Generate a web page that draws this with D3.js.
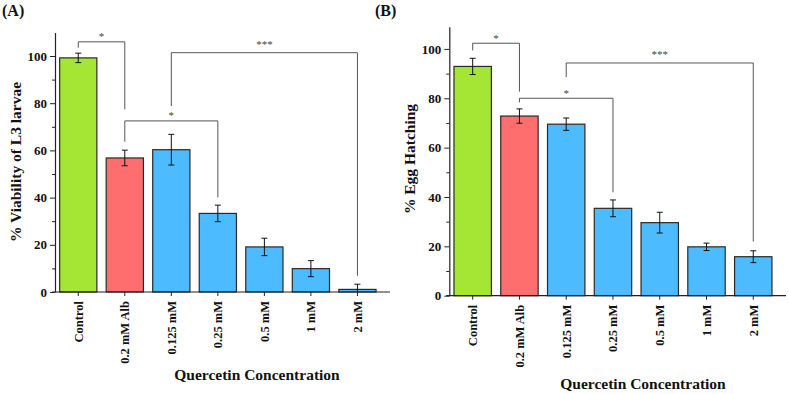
<!DOCTYPE html>
<html>
<head>
<meta charset="utf-8">
<script src="https://cdn.jsdelivr.net/npm/d3@7"></script>
<style>
	body { margin: 0; background: #fff; }
	text { font-family: 'Liberation Serif', 'Times New Roman', serif; font-weight: bold; fill: #111; }
</style>
</head>
<body>
<div id="chart"></div>
<script>
// categories shared by both panels
const categories = ['Control', '0.2 mM Alb', '0.125 mM', '0.25 mM', '0.5 mM', '1 mM', '2 mM']

// panel A: % viability of L3 larvae
const viability = [99.2, 56.8, 60.3, 33.3, 19.1, 9.9, 1.1]
const viabilityErr = [2.0, 3.3, 6.5, 3.5, 3.7, 3.4, 2.2]

// panel B: % egg hatching
const hatching = [92.9, 72.8, 69.5, 35.4, 29.6, 19.8, 15.8]
const hatchingErr = [3.3, 2.9, 2.5, 3.4, 4.2, 1.5, 2.4]

// significance brackets: from bar a to bar b, top value, end values, label
const viabilityBrackets = [
	{ a: 0, b: 1, top: 106, endA: 103.5, endB: 77.4, label: '*' },
	{ a: 1, b: 3, top: 72.5, endA: 63.7, endB: 40.1, label: '*' },
	{ a: 2, b: 6, top: 101.4, endA: 78.8, endB: 6.9, label: '***' }
]
const hatchingBrackets = [
	{ a: 0, b: 1, top: 102.3, endA: 99.4, endB: 82.7, label: '*' },
	{ a: 1, b: 3, top: 80, endA: 78.3, endB: 41.9, label: '*' },
	{ a: 2, b: 6, top: 94.3, endA: 88.6, endB: 21.9, label: '***' }
]

const yTicks = [0, 20, 40, 60, 80, 100]
const yMinorTicks = [10, 30, 50, 70, 90]

// bar colours by category (green control, red albendazole, blue quercetin)
const barColors = ['#a5e534', '#ff6e6e', '#4dbbff', '#4dbbff', '#4dbbff', '#4dbbff', '#4dbbff']

const width = 789
const height = 394

const svg = d3.select('#chart')
	.append('svg')
	.attr('width', width)
	.attr('height', height)

function drawPanel(opts) {
	const g = svg.append('g')

	const x = d3.scaleLinear()
		.domain([-0.5, 6.7])
		.range([opts.left, opts.right])

	const y = d3.scaleLinear()
		.domain([0, opts.yMax])
		.range([opts.bottom, opts.top])

	const barHalf = 0.4
	const rows = categories.map((c, i) => ({ name: c, i: i, v: opts.values[i], e: opts.errors[i] }))

	// bars
	g.selectAll('.bar')
		.data(rows)
		.join('rect')
		.attr('class', 'bar')
		.attr('x', d => x(d.i - barHalf))
		.attr('width', d => x(d.i + barHalf) - x(d.i - barHalf))
		.attr('y', d => y(d.v))
		.attr('height', d => y(0) - y(d.v))
		.attr('fill', d => barColors[d.i])
		.attr('stroke', '#2a2a2a')
		.attr('stroke-width', 1.2)

	// error bars
	const err = g.selectAll('.err')
		.data(rows)
		.join('g')
		.attr('class', 'err')
		.attr('stroke', '#111')
		.attr('stroke-width', 1)
	err.append('line')
		.attr('x1', d => x(d.i)).attr('x2', d => x(d.i))
		.attr('y1', d => y(d.v + d.e)).attr('y2', d => y(Math.max(0, d.v - d.e)))
	err.append('line')
		.attr('x1', d => x(d.i) - 3).attr('x2', d => x(d.i) + 3)
		.attr('y1', d => y(d.v + d.e)).attr('y2', d => y(d.v + d.e))
	err.filter(d => d.v - d.e > 0).append('line')
		.attr('x1', d => x(d.i) - 3).attr('x2', d => x(d.i) + 3)
		.attr('y1', d => y(d.v - d.e)).attr('y2', d => y(d.v - d.e))

	// y axis
	g.append('g')
		.attr('transform', `translate(${opts.left},0)`)
		.call(d3.axisLeft(y).tickValues(yMinorTicks).tickSize(3).tickFormat(''))
		.call(a => a.select('.domain').remove())
		.selectAll('line').attr('stroke', '#222')
	const yAxis = g.append('g')
		.attr('transform', `translate(${opts.left},0)`)
		.call(d3.axisLeft(y).tickValues(yTicks).tickSize(5).tickSizeOuter(0).tickPadding(3))
	yAxis.select('.domain').attr('stroke', '#222').attr('stroke-width', 1.2)
	yAxis.selectAll('line').attr('stroke', '#222')
	yAxis.selectAll('text')
		.style('font-family', "'Liberation Serif', serif")
		.style('font-size', '13px')
		.style('font-weight', 'bold')
		.attr('fill', '#111')

	// x axis
	g.append('line')
		.attr('x1', opts.left - 3).attr('x2', opts.right)
		.attr('y1', y(0)).attr('y2', y(0))
		.attr('stroke', '#222')
		.attr('stroke-width', 1.2)
	g.selectAll('.xtick')
		.data(rows)
		.join('line')
		.attr('class', 'xtick')
		.attr('x1', d => x(d.i)).attr('x2', d => x(d.i))
		.attr('y1', y(0)).attr('y2', y(0) + 4)
		.attr('stroke', '#222')
	g.selectAll('.xlabel')
		.data(rows)
		.join('text')
		.attr('class', 'xlabel')
		.attr('transform', d => `translate(${x(d.i)},${y(0) + 9}) rotate(-90)`)
		.attr('text-anchor', 'end')
		.attr('dy', '0.35em')
		.style('font-size', '12.5px')
		.text(d => d.name)

	// significance brackets
	const br = g.selectAll('.bracket')
		.data(opts.brackets)
		.join('g')
		.attr('class', 'bracket')
	br.append('path')
		.attr('d', d => `M${x(d.a)},${y(d.endA)}V${y(d.top)}H${x(d.b)}V${y(d.endB)}`)
		.attr('fill', 'none')
		.attr('stroke', '#555')
		.attr('stroke-width', 1)
	br.append('text')
		.attr('x', d => (x(d.a) + x(d.b)) / 2)
		.attr('y', d => y(d.top) - (d.label.length > 1 ? 5 : 1.5))
		.attr('text-anchor', 'middle')
		.style('font-size', '11px')
		.style('font-weight', 'normal')
		.style('fill', '#444')
		.text(d => d.label)

	// titles
	g.append('text')
		.attr('transform', `translate(${opts.yTitleX},${opts.yTitleY}) rotate(-90)`)
		.attr('text-anchor', 'middle')
		.attr('dy', '0.35em')
		.style('font-size', '15.5px')
		.text(opts.yTitle)

	g.append('text')
		.attr('x', opts.xTitleX)
		.attr('y', opts.xTitleY)
		.attr('text-anchor', 'middle')
		.style('font-size', '15.5px')
		.text('Quercetin Concentration')

	g.append('text')
		.attr('x', opts.tagX)
		.attr('y', 16)
		.style('font-size', '16px')
		.text(opts.tag)
}

drawPanel({
	values: viability, errors: viabilityErr, brackets: viabilityBrackets,
	left: 55, right: 390, top: 32.4, bottom: 292, yMax: 110,
	yTitle: '% Viability of L3 larvae', yTitleX: 16, yTitleY: 162,
	xTitleX: 257, xTitleY: 380, tag: '(A)', tagX: 2
})

drawPanel({
	values: hatching, errors: hatchingErr, brackets: hatchingBrackets,
	left: 449.3, right: 786, top: 26.7, bottom: 295.7, yMax: 109,
	yTitle: '% Egg Hatching', yTitleX: 410, yTitleY: 159,
	xTitleX: 643, xTitleY: 389, tag: '(B)', tagX: 375
})
</script>
</body>
</html>
